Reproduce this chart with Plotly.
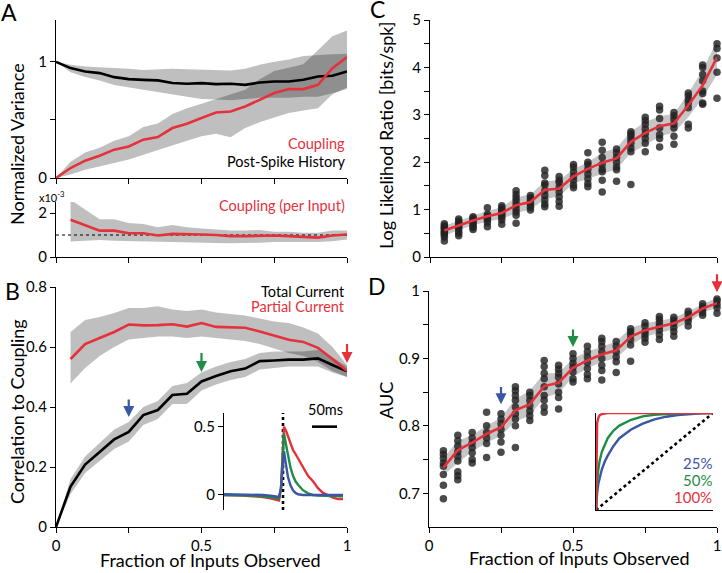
import plotly.graph_objects as go

W, H = 722, 573
FONT = "Lato"
RED = "#e5313b"
GREEN = "#1f8c47"
BLUE = "#3b56a5"
BAND = "rgba(0,0,0,0.25)"
BAND_SOLID = "#c6c6c6"
DOTS = "rgba(35,35,35,0.82)"

# ---- panel A (normalized variance) ----
frac_all = [0.0, 0.05, 0.1, 0.15, 0.2, 0.25, 0.3, 0.35, 0.4, 0.45, 0.5,
            0.55, 0.6, 0.65, 0.7, 0.75, 0.8, 0.85, 0.9, 0.95, 1.0]
frac = frac_all[1:]

hist_mean = [1.0, 0.946, 0.917, 0.903, 0.868, 0.851, 0.845, 0.84, 0.817, 0.811, 0.817,
             0.808, 0.811, 0.802, 0.822, 0.831, 0.831, 0.845, 0.874, 0.88, 0.917]
hist_lo = [1.0, 0.91, 0.87, 0.84, 0.80, 0.78, 0.76, 0.74, 0.72, 0.70, 0.68,
           0.675, 0.67, 0.68, 0.69, 0.69, 0.69, 0.70, 0.70, 0.73, 0.765]
hist_hi = [1.0, 0.975, 0.96, 0.955, 0.946, 0.94, 0.93, 0.935, 0.94, 0.935, 0.93,
           0.93, 0.925, 0.94, 0.974, 1.0, 1.02, 1.05, 1.06, 1.065, 1.07]

coup_mean = [0.0, 0.086, 0.149, 0.192, 0.244, 0.272, 0.33, 0.352, 0.43, 0.467, 0.516,
             0.564, 0.573, 0.616, 0.673, 0.731, 0.765, 0.765, 0.802, 0.946, 1.04]
coup_lo = [0.0, 0.03, 0.07, 0.10, 0.13, 0.16, 0.20, 0.24, 0.28, 0.32, 0.36,
           0.38, 0.35, 0.43, 0.48, 0.52, 0.56, 0.58, 0.60, 0.72, 0.78]
coup_hi = [0.0, 0.14, 0.22, 0.26, 0.32, 0.36, 0.44, 0.47, 0.55, 0.6, 0.64,
           0.68, 0.72, 0.76, 0.85, 0.92, 0.95, 0.98, 1.1, 1.22, 1.27]

per_input_mean = [1.69, 1.46, 1.2, 1.2, 1.08, 1.08, 0.98, 1.05, 1.02, 1.02,
                  1.0, 0.95, 0.95, 0.97, 0.98, 0.95, 0.92, 0.88, 0.98, 1.02]
per_input_lo = [0.7, 0.74, 0.77, 0.74, 0.72, 0.7, 0.7, 0.7, 0.68, 0.65,
                0.64, 0.62, 0.63, 0.65, 0.68, 0.7, 0.69, 0.68, 0.72, 0.8]
per_input_hi = [2.6, 2.15, 1.72, 1.72, 1.54, 1.5, 1.35, 1.45, 1.35, 1.3,
                1.26, 1.2, 1.2, 1.23, 1.15, 1.15, 1.1, 1.1, 1.2, 1.2]

# ---- panel B (correlation to coupling) ----
total_mean = [0.0, 0.135, 0.208, 0.25, 0.292, 0.317, 0.373, 0.39, 0.44, 0.444, 0.485,
              0.503, 0.519, 0.528, 0.553, 0.555, 0.558, 0.558, 0.562, 0.54, 0.519]
total_lo = [0.0, 0.11, 0.18, 0.22, 0.26, 0.285, 0.34, 0.36, 0.41, 0.41, 0.455,
            0.475, 0.49, 0.5, 0.525, 0.53, 0.535, 0.535, 0.535, 0.515, 0.50]
total_hi = [0.0, 0.16, 0.235, 0.28, 0.325, 0.35, 0.4, 0.42, 0.47, 0.48, 0.515,
            0.535, 0.55, 0.56, 0.58, 0.585, 0.585, 0.585, 0.59, 0.565, 0.535]

partial_mean = [0.56, 0.61, 0.63, 0.65, 0.675, 0.672, 0.673, 0.676, 0.668, 0.68,
                0.667, 0.666, 0.664, 0.652, 0.638, 0.624, 0.617, 0.597, 0.56, 0.52]
partial_lo = [0.478, 0.53, 0.57, 0.6, 0.625, 0.63, 0.635, 0.635, 0.63, 0.635,
              0.63, 0.625, 0.62, 0.61, 0.595, 0.58, 0.57, 0.55, 0.52, 0.5]
partial_hi = [0.65, 0.69, 0.70, 0.713, 0.73, 0.73, 0.736, 0.725, 0.72, 0.725,
              0.715, 0.71, 0.705, 0.695, 0.685, 0.68, 0.665, 0.645, 0.6, 0.54]

# inset: coupling filters (ms, a.u.)
t_ms = [-118, -100, -80, -60, -40, -25, -15, -8, -4, 0, 2, 6, 10, 15, 20,
        25, 30, 40, 50, 60, 70, 80, 90, 100, 110, 120]
filt_100 = [0.0, 0.0, -0.005, -0.01, -0.015, -0.025, -0.035, -0.04, 0.05, 0.45, 0.5,
            0.47, 0.43, 0.38, 0.33, 0.3, 0.27, 0.2, 0.14, 0.1, 0.05, 0.015,
            -0.005, -0.02, -0.03, -0.03]
filt_50 = [0.0, 0.0, 0.0, -0.005, -0.01, -0.015, -0.02, -0.025, 0.05, 0.4, 0.45,
           0.37, 0.28, 0.2, 0.14, 0.1, 0.075, 0.035, 0.012, 0.0, -0.005, -0.005,
           -0.01, -0.01, -0.01, -0.01]
filt_25 = [0.005, 0.005, 0.005, 0.0, 0.0, -0.005, -0.01, -0.015, 0.05, 0.28, 0.32,
           0.22, 0.13, 0.07, 0.035, 0.015, 0.005, 0.0, 0.0, 0.0, 0.0, 0.0,
           0.0, 0.0, 0.0, 0.0]

# ---- panel C (log likelihood ratio) ----
llr_mean = [0.56, 0.67, 0.77, 0.86, 0.93, 1.09, 1.16, 1.42, 1.44, 1.7,
            1.86, 1.99, 2.08, 2.43, 2.62, 2.76, 2.82, 3.2, 3.62, 4.21]
llr_lo = [0.45, 0.57, 0.67, 0.75, 0.8, 0.93, 1.0, 1.22, 1.28, 1.55,
          1.65, 1.75, 1.85, 2.2, 2.35, 2.55, 2.62, 2.95, 3.35, 3.85]
llr_hi = [0.66, 0.77, 0.87, 0.97, 1.05, 1.26, 1.32, 1.6, 1.62, 1.85,
          2.0, 2.2, 2.3, 2.65, 2.85, 2.97, 3.02, 3.45, 3.95, 4.55]
llr_cells = [
    [0.34, 0.42, 0.47, 0.5, 0.53, 0.56, 0.6, 0.63, 0.66, 0.7],
    [0.45, 0.5, 0.55, 0.6, 0.64, 0.68, 0.72, 0.76, 0.8],
    [0.58, 0.62, 0.66, 0.7, 0.74, 0.78, 0.82, 0.85],
    [0.64, 0.72, 0.78, 0.82, 0.86, 0.9, 1.04],
    [0.69, 0.78, 0.84, 0.88, 0.92, 0.96, 1.0, 1.04, 1.08],
    [0.71, 0.88, 0.95, 1.02, 1.1, 1.18, 1.25, 1.32, 1.4],
    [0.99, 1.05, 1.1, 1.15, 1.2, 1.25, 1.3],
    [1.06, 1.12, 1.2, 1.3, 1.4, 1.52, 1.56, 1.72, 1.83],
    [1.07, 1.17, 1.27, 1.37, 1.47, 1.57, 1.62, 1.7],
    [1.46, 1.52, 1.62, 1.7, 1.8, 1.9, 1.95],
    [1.48, 1.55, 1.65, 1.75, 1.85, 1.95, 2.0, 2.2],
    [1.37, 1.62, 1.8, 1.85, 1.95, 2.1, 2.25, 2.42],
    [1.6, 1.84, 1.9, 2.0, 2.1, 2.2, 2.28],
    [1.53, 2.22, 2.3, 2.4, 2.48, 2.55, 2.6, 2.64],
    [2.22, 2.4, 2.5, 2.6, 2.7, 2.8, 2.88, 2.95],
    [2.32, 2.5, 2.58, 2.72, 2.92, 3.1, 3.18],
    [2.38, 2.55, 2.72, 2.8, 2.9, 2.98, 3.05],
    [2.72, 2.8, 3.15, 3.25, 3.32, 3.4, 3.46],
    [3.22, 3.25, 3.45, 3.5, 3.72, 3.85, 4.0, 4.05],
    [3.35, 3.9, 4.2, 4.4, 4.5],
]

# ---- panel D (AUC) ----
auc_mean = [0.738, 0.764, 0.775, 0.788, 0.798, 0.823, 0.832, 0.859, 0.864, 0.886,
            0.897, 0.906, 0.912, 0.932, 0.942, 0.947, 0.952, 0.961, 0.974, 0.982]
auc_lo = [0.727, 0.745, 0.762, 0.775, 0.785, 0.807, 0.815, 0.842, 0.848, 0.873,
          0.885, 0.895, 0.9, 0.92, 0.932, 0.938, 0.943, 0.953, 0.968, 0.975]
auc_hi = [0.752, 0.778, 0.786, 0.8, 0.812, 0.84, 0.852, 0.878, 0.878, 0.9,
          0.91, 0.918, 0.925, 0.945, 0.952, 0.956, 0.96, 0.97, 0.98, 0.99]
auc_cells = [
    [0.692, 0.712, 0.728, 0.74, 0.745, 0.752, 0.758, 0.763],
    [0.72, 0.726, 0.732, 0.748, 0.755, 0.762, 0.77, 0.778, 0.786],
    [0.745, 0.75, 0.76, 0.768, 0.775, 0.782, 0.79],
    [0.753, 0.774, 0.782, 0.79, 0.8, 0.82],
    [0.761, 0.776, 0.786, 0.795, 0.803, 0.81, 0.818],
    [0.768, 0.8, 0.81, 0.818, 0.828, 0.838, 0.845, 0.852, 0.858],
    [0.808, 0.815, 0.822, 0.83, 0.838, 0.845, 0.85],
    [0.82, 0.828, 0.838, 0.845, 0.858, 0.87, 0.878, 0.888, 0.897],
    [0.825, 0.842, 0.85, 0.862, 0.872, 0.878, 0.884, 0.89],
    [0.865, 0.87, 0.88, 0.887, 0.893, 0.9, 0.907],
    [0.87, 0.876, 0.885, 0.894, 0.902, 0.91, 0.918],
    [0.868, 0.882, 0.89, 0.9, 0.91, 0.918, 0.925, 0.93],
    [0.879, 0.895, 0.902, 0.91, 0.918, 0.925],
    [0.896, 0.92, 0.928, 0.935, 0.94, 0.944],
    [0.924, 0.93, 0.935, 0.94, 0.948, 0.953],
    [0.928, 0.935, 0.942, 0.948, 0.953, 0.958, 0.962],
    [0.933, 0.94, 0.946, 0.952, 0.957, 0.961],
    [0.948, 0.955, 0.96, 0.966, 0.97],
    [0.964, 0.968, 0.973, 0.977, 0.981],
    [0.967, 0.975, 0.98, 0.985, 0.988],
]

# inset: ROC curves
fpr = [0, 0.005, 0.01, 0.02, 0.03, 0.05, 0.075, 0.1, 0.15, 0.2, 0.3, 0.4,
       0.5, 0.6, 0.7, 0.8, 0.9, 1.0]
tpr_100 = [0, 0.8, 0.9, 0.95, 0.975, 0.99, 0.997, 1, 1, 1, 1, 1, 1, 1, 1, 1, 1, 1]
tpr_50 = [0, 0.2, 0.3, 0.42, 0.5, 0.6, 0.68, 0.74, 0.82, 0.87, 0.93, 0.965,
          0.982, 0.992, 0.997, 1, 1, 1]
tpr_25 = [0, 0.12, 0.18, 0.27, 0.33, 0.42, 0.5, 0.56, 0.66, 0.74, 0.83, 0.89,
          0.935, 0.962, 0.98, 0.992, 0.998, 1]


def xd(a, b):
    return [a / W, b / W]


def yd(top, bottom):
    return [1 - bottom / H, 1 - top / H]


def px(x, y):
    return x / W, 1 - y / H


fig = go.Figure()


def band(xs, lo, hi, ax, color=BAND):
    fig.add_trace(go.Scatter(x=xs + xs[::-1], y=hi + lo[::-1], fill="toself",
                             fillcolor=color, line=dict(width=0), mode="lines",
                             hoverinfo="skip", xaxis="x" + ax, yaxis="y" + ax))


def line(xs, ys, ax, color, width=2.6, dash="solid"):
    fig.add_trace(go.Scatter(x=xs, y=ys, mode="lines", line=dict(color=color, width=width, dash=dash),
                             xaxis="x" + ax, yaxis="y" + ax, cliponaxis=False))


# A top
band(frac_all, hist_lo, hist_hi, "")
band(frac_all, coup_lo, coup_hi, "")
line(frac_all, hist_mean, "", "black")
line(frac_all, coup_mean, "", RED)
# A bottom
band(frac, per_input_lo, per_input_hi, "2")
line([0, 1], [1, 1], "2", "black", width=1.2, dash="3px,3px")
line(frac, per_input_mean, "2", RED)
# B
band(frac_all, total_lo, total_hi, "3")
band(frac, partial_lo, partial_hi, "3")
line(frac_all, total_mean, "3", "black")
line(frac, partial_mean, "3", RED)
# B inset
line([0, 0], [-0.11, 0.6], "4", "black", width=2.6, dash="dot")
line(t_ms, filt_100, "4", RED, width=2.4)
line(t_ms, filt_50, "4", GREEN, width=2.4)
line(t_ms, filt_25, "4", BLUE, width=2.4)
line([58, 108], [0.5, 0.5], "4", "black", width=2.6)


def dots(cells, ax):
    xs, ys = [], []
    for f, col in zip(frac, cells):
        xs += [f] * len(col)
        ys += col
    fig.add_trace(go.Scatter(x=xs, y=ys, mode="markers",
                             marker=dict(size=7.5, color=DOTS, line=dict(width=0)),
                             xaxis="x" + ax, yaxis="y" + ax, cliponaxis=False))


# C
band(frac, llr_lo, llr_hi, "5", BAND_SOLID)
dots(llr_cells, "5")
line(frac, llr_mean, "5", RED)
# D
band(frac, auc_lo, auc_hi, "6", BAND_SOLID)
dots(auc_cells, "6")
line(frac, auc_mean, "6", RED)
# D inset
line([0, 1], [0, 1], "7", "black", width=2.6, dash="dot")
line(fpr, tpr_25, "7", BLUE, width=2.4)
line(fpr, tpr_50, "7", GREEN, width=2.4)
line(fpr, tpr_100, "7", RED, width=2.4)

tickfont = dict(family=FONT, size=15, color="black")
base = dict(showline=True, linecolor="black", linewidth=1.3, ticks="outside",
            ticklen=5, tickwidth=1.3, tickcolor="black", showgrid=False,
            zeroline=False, tickfont=tickfont, automargin=False,
            ticklabeloverflow="allow")

xt_no = dict(tickvals=[0, 0.25, 0.5, 0.75, 1], ticktext=["", "", "", "", ""])
xt_yes = dict(tickvals=[0, 0.25, 0.5, 0.75, 1], ticktext=["0", "", "0.5", "", "1"])
plain = dict(showline=True, linecolor="black", linewidth=1.3, showticklabels=False,
             showgrid=False, zeroline=False, automargin=False)

layout = dict(
    template="none",
    width=W, height=H, margin=dict(l=0, r=0, t=0, b=0, pad=0),
    plot_bgcolor="white", paper_bgcolor="white", showlegend=False,
    font=dict(family=FONT, color="black"),
    xaxis=dict(base, domain=xd(56, 347), range=[0, 1], anchor="y", **xt_no),
    yaxis=dict(base, domain=yd(20, 178), range=[0, 1.36], anchor="x",
               tickvals=[0, 0.5, 1], ticktext=["0", "", "1"]),
    xaxis2=dict(base, domain=xd(56, 347), range=[0, 1], anchor="y2", **xt_no),
    yaxis2=dict(base, domain=yd(202, 257), range=[0, 2.5], anchor="x2",
                tickvals=[0, 2], ticktext=["0", "2"]),
    xaxis3=dict(base, domain=xd(56, 347), range=[0, 1], anchor="y3", **xt_yes),
    yaxis3=dict(base, domain=yd(287, 527), range=[0, 0.8], anchor="x3",
                tickvals=[0, 0.2, 0.4, 0.6, 0.8]),
    xaxis4=dict(domain=xd(224, 343), range=[-118, 120], anchor="y4", visible=False),
    yaxis4=dict(base, domain=yd(413, 510), range=[-0.11, 0.6], anchor="x4",
                tickvals=[0, 0.5], ticktext=["0", "0.5"]),
    xaxis5=dict(base, domain=xd(430, 717), range=[0, 1], anchor="y5", **xt_no),
    yaxis5=dict(base, domain=yd(20, 257), range=[0, 5], anchor="x5",
                tickvals=[0, 0.5, 1, 1.5, 2, 2.5, 3, 3.5, 4, 4.5, 5],
                ticktext=["0", "", "1", "", "2", "", "3", "", "4", "", "5"]),
    xaxis6=dict(base, domain=xd(429, 717), range=[0, 1], anchor="y6", **xt_yes),
    yaxis6=dict(base, domain=yd(291, 527), range=[0.65, 1.0], anchor="x6",
                tickvals=[0.7, 0.75, 0.8, 0.85, 0.9, 0.95, 1.0],
                ticktext=["0.7", "", "0.8", "", "0.9", "", "1"]),
    xaxis7=dict(plain, domain=xd(596, 713), range=[0, 1], anchor="y7"),
    yaxis7=dict(plain, domain=yd(413, 510), range=[0, 1], anchor="x7"),
)
fig.update_layout(**layout)


def text(s, x, y, size=14, color="black", xanchor="center", angle=0):
    xx, yy = px(x, y)
    fig.add_annotation(text=s, x=xx, y=yy, xref="paper", yref="paper", showarrow=False,
                       xanchor=xanchor, yanchor="middle", textangle=angle,
                       font=dict(family=FONT, size=size, color=color))


def arrow(x, y_tip, y_tail, ax, color):
    fig.add_annotation(x=x, y=y_tip, ax=x, ay=y_tail, xref="x" + ax, yref="y" + ax,
                       axref="x" + ax, ayref="y" + ax, text="", showarrow=True,
                       arrowhead=2, arrowsize=1.0, arrowwidth=2.2, arrowcolor=color)


# panel letters
text("A", 9, 12, size=23)
text("B", 12, 291, size=23)
text("C", 377, 9, size=23)
text("D", 377, 286, size=23)

# axis titles
text("Normalized Variance", 17, 144, size=18, angle=-90)
text("Correlation to Coupling", 17, 412, size=18, angle=-90)
text("Log Likelihod Ratio [bits/spk]", 386, 135, size=18, angle=-90)
text("AUC", 386, 401, size=18, angle=-90)
text("Fraction of Inputs Observed", 210, 560, size=18)
text("Fraction of Inputs Observed", 579, 558, size=18)

# legends
text("Coupling", 347, 143, size=14.5, color=RED, xanchor="right")
text("Post-Spike History", 347, 161, size=14.5, xanchor="right")
text("Coupling (per Input)", 347, 205, size=14.5, color=RED, xanchor="right")
text("x10<sup>-3</sup>", 52, 196, size=11)
text("Total Current", 347, 291, size=14.5, xanchor="right")
text("Partial Current", 347, 306, size=14.5, color=RED, xanchor="right")
text("50ms", 325, 409, size=14.5)
text("25%", 714, 463, size=15, color=BLUE, xanchor="right")
text("50%", 714, 480, size=15, color=GREEN, xanchor="right")
text("100%", 714, 497, size=15, color=RED, xanchor="right")

# arrows marking 25%, 50%, 100%
arrow(0.25, 0.367, 0.43, "3", BLUE)
arrow(0.5, 0.517, 0.585, "3", GREEN)
arrow(1.0, 0.547, 0.615, "3", RED)
arrow(0.25, 0.832, 0.86, "6", BLUE)
arrow(0.5, 0.917, 0.945, "6", GREEN)
arrow(1.0, 0.998, 1.027, "6", RED)

# drop the page's default body margin so the figure sits at the window's corner
fig.write_html("out.html", config={"displayModeBar": False},
               post_script="document.body.style.margin = '0';")
